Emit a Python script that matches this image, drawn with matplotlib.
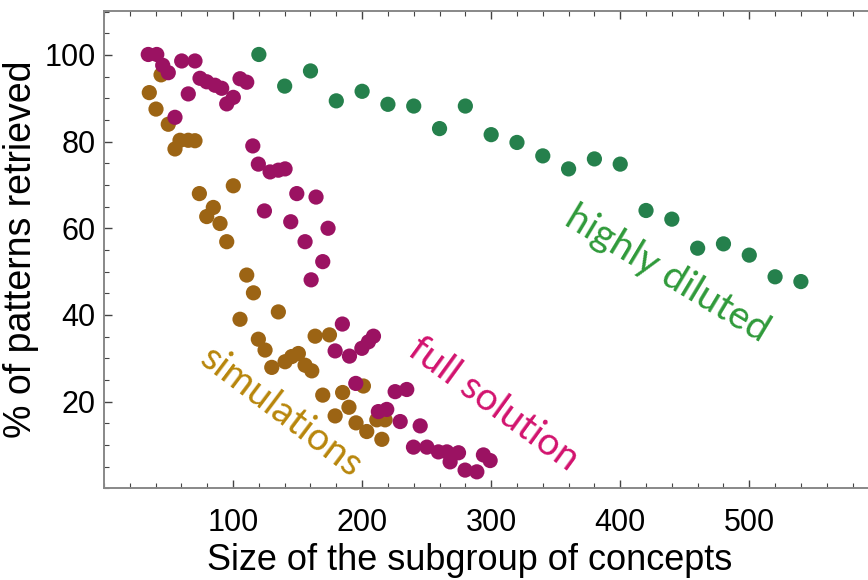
import matplotlib
matplotlib.use("Agg")
import matplotlib.pyplot as plt
from matplotlib.ticker import MultipleLocator, FixedLocator

# highly diluted network (green)
diluted_x = [120, 140, 160, 180, 200, 220, 240, 260, 280, 300, 320, 340, 360, 380,
             400, 420, 440, 460, 480, 500, 520, 540]
diluted_y = [100.1, 92.8, 96.3, 89.4, 91.6, 88.6, 88.2, 83.0, 88.2, 81.6, 79.8, 76.7,
             73.7, 76.0, 74.8, 64.1, 62.1, 55.4, 56.4, 53.8, 48.8, 47.7]

# simulations (brown)
sim_x = [35.1, 40.3, 44.2, 49.8, 55.0, 58.9, 65.3, 70.5, 73.9, 79.6, 84.7, 89.9, 95.1,
         100.2, 105.4, 110.6, 115.8, 119.6, 124.8, 130.0, 135.1, 140.3, 145.5, 150.6,
         155.8, 161.0, 163.6, 169.5, 174.7, 179.1, 184.9, 189.8, 195.3, 201.0, 203.6,
         211.4, 215.3, 217.8]
sim_y = [91.3, 87.5, 95.4, 84.0, 78.3, 80.3, 80.3, 80.2, 68.0, 62.7, 64.8, 61.1, 56.9,
         69.8, 39.0, 49.2, 45.1, 34.4, 31.9, 27.9, 40.7, 29.2, 30.4, 31.1,
         28.4, 27.1, 35.1, 21.5, 35.4, 16.7, 22.1, 18.7, 15.1, 23.6, 13.1,
         15.8, 11.3, 15.8]

# full solution (magenta)
full_x = [34.3, 40.9, 45.5, 49.8, 55.0, 60.2, 65.3, 70.5, 74.4, 79.6, 86.0, 91.2, 95.1,
          100.2, 105.4, 110.6, 115.3, 119.6, 124.3, 128.7, 135.1, 140.3, 144.7, 149.4,
          155.8, 160.5, 164.3, 169.5, 173.6, 179.1, 184.7, 190.2, 195.1, 199.8, 204.9,
          208.8, 212.6, 219.1, 225.6, 229.5, 234.6, 239.8, 245.0, 250.2, 259.1, 265.7,
          268.2, 274.7, 279.8, 288.9, 294.0, 299.2]
full_y = [100.1, 100.1, 97.6, 95.9, 85.6, 98.6, 91.0, 98.6, 94.6, 93.8, 93.0, 92.3, 88.7,
          90.2, 94.5, 93.7, 79.0, 74.8, 64.0, 73.0, 73.4, 73.7, 61.5, 68.0,
          56.9, 48.1, 67.2, 52.3, 60.0, 31.7, 37.9, 30.5, 24.2, 32.3, 33.8,
          35.1, 17.7, 18.2, 22.3, 15.4, 22.8, 9.5, 14.4, 9.5, 8.4, 8.4,
          6.1, 8.2, 4.2, 3.8, 7.7, 6.4]

fig = plt.figure(figsize=(8.68, 5.80), dpi=100)
ax = fig.add_axes([104/868, (580-488.3)/580, 764/868, 477.6/580])

ax.scatter(sim_x, sim_y, s=120, color='#9c6414', edgecolors='none', zorder=3)
ax.scatter(full_x, full_y, s=120, color='#9b1262', edgecolors='none', zorder=4)
ax.scatter(diluted_x, diluted_y, s=120, color='#25804c', edgecolors='none', zorder=5)

# curve labels
lab_font = ['Lato', 'DejaVu Sans']
ax.text(436, 49.5, 'highly diluted', color='#2f9a3a', fontsize=28, rotation=-31,
        ha='center', va='center', family=lab_font)
ax.text(302, 19.5, 'full solution', color='#d2136e', fontsize=28, rotation=-36,
        ha='center', va='center', family=lab_font)
ax.text(137, 17.5, 'simulations', color='#b8860b', fontsize=28, rotation=-37,
        ha='center', va='center', family=lab_font)

ax.set_xlim(0, 592)
ax.set_ylim(0, 110.2)
ax.xaxis.set_major_locator(FixedLocator([100, 200, 300, 400, 500]))
ax.xaxis.set_minor_locator(MultipleLocator(20))
ax.yaxis.set_major_locator(FixedLocator([20, 40, 60, 80, 100]))
ax.yaxis.set_minor_locator(MultipleLocator(5))

for s in ['left', 'bottom', 'top']:
    ax.spines[s].set_color('#888888')
    ax.spines[s].set_linewidth(1.4)
ax.spines['right'].set_visible(False)

ax.tick_params(which='both', direction='in', top=True, right=False, color='#444444',
               labelsize=22, pad=14)
ax.tick_params(which='major', length=6, width=1)
ax.tick_params(which='minor', length=3.5, width=0.8)
ax.tick_params(axis='y', pad=6)
for t in ax.get_xticklabels() + ax.get_yticklabels():
    t.set_family('Liberation Sans')

ax.set_xlabel('Size of the subgroup of concepts', fontsize=26, family='Liberation Sans')
ax.xaxis.set_label_coords(0.479, -0.115)
ax.set_ylabel('% of patterns retrieved', fontsize=27, family='Liberation Sans',
              labelpad=4)

fig.savefig('out.png', dpi=100)
